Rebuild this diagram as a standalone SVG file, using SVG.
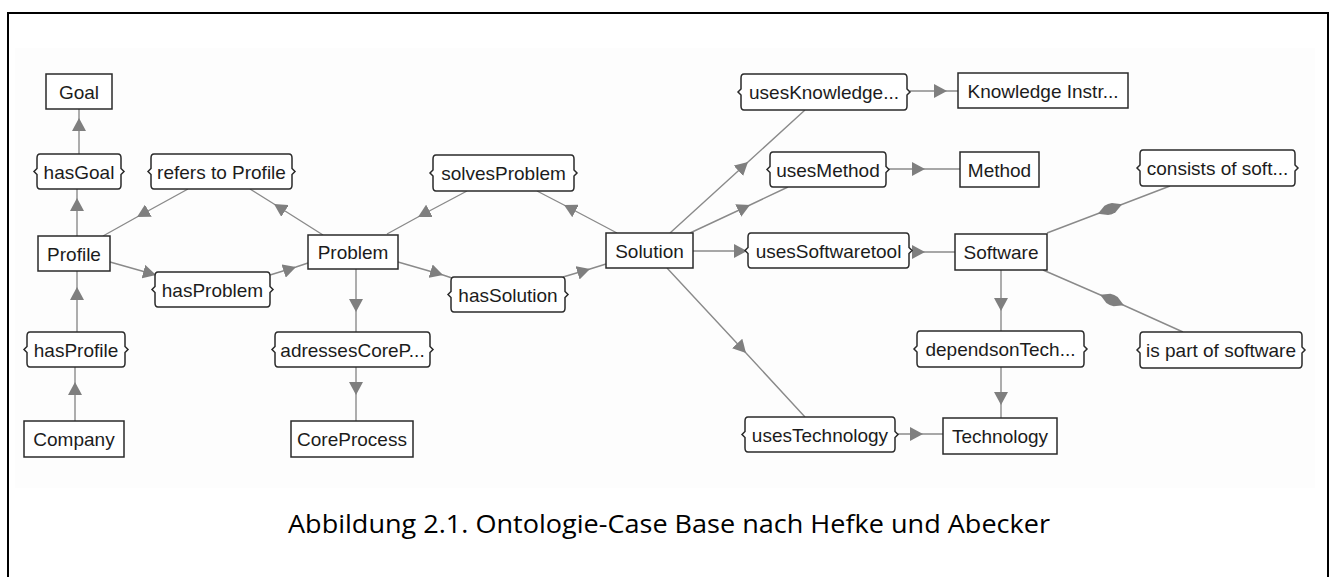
<svg xmlns="http://www.w3.org/2000/svg" width="1335" height="577" viewBox="0 0 1335 577">
<style>
.box{fill:#ffffff;stroke:#2a2a2a;stroke-width:1.5}
.lbl{fill:#ffffff;stroke:#2a2a2a;stroke-width:1.5}
.t{font-family:"Liberation Sans",Arial,sans-serif;font-size:19px;fill:#1c1c1c;text-anchor:middle}
.c{fill:none;stroke:#8a8a8a;stroke-width:1.4}
.a{marker-mid:url(#arr)}
.ae{marker-end:url(#arr)}
.d{marker-mid:url(#dia)}
.cap{font-family:"Open Sans","Liberation Sans",sans-serif;font-size:26px;fill:#000;text-anchor:middle}
</style>
<defs>
<marker id="arr" viewBox="0 0 13 14" refX="13" refY="7" markerWidth="13" markerHeight="14" markerUnits="userSpaceOnUse" orient="auto">
<path d="M0,0 L13,7 L0,14 Z" fill="#7f7f7f"/>
</marker>
<marker id="dia" viewBox="0 0 26 12" refX="13" refY="6" markerWidth="26" markerHeight="12" markerUnits="userSpaceOnUse" orient="auto">
<path d="M0,6 L9,1 Q13,0 17,1 L26,6 L17,11 Q13,12 9,11 Z" fill="#7f7f7f"/>
</marker>
</defs>
<rect x="0" y="0" width="1335" height="577" fill="#ffffff"/>
<rect x="15" y="48" width="1300" height="440" fill="#fdfdfd"/>
<path d="M8,580 V13 H1328 V580" fill="none" stroke="#000" stroke-width="2"/>

<g id="connectors">
<path class="c a" d="M79,154 L79,118 L79,109"/>
<path class="c a" d="M77,236 L77,198 L77,189"/>
<path class="c a" d="M75,421 L75,382 L75,367"/>
<path class="c a" d="M77,332 L77,287 L77,271"/>
<path class="c a" d="M188,189 L137,217 L103,236"/>
<path class="c a" d="M323,235 L274,204 L250,189"/>
<path class="c a" d="M110,262 L156,275 L160,276"/>
<path class="c a" d="M270,275 L296,267 L308,263"/>
<path class="c a" d="M398,262 L443,275 L452,278"/>
<path class="c a" d="M563,277 L590,269 L606,264"/>
<path class="c a" d="M617,233 L564,205 L537,191"/>
<path class="c a" d="M467,191 L418,217 L387,234"/>
<path class="c a" d="M356,269 L356,312 L356,332"/>
<path class="c a" d="M356,367 L356,395 L356,421"/>
<path class="c a" d="M670,233 L748,162 L805,110"/>
<path class="c a" d="M910,91 L947,91 L958,91"/>
<path class="c a" d="M690,233 L750,205 L788,187"/>
<path class="c a" d="M889,169 L925,169 L960,169"/>
<path class="c ae" d="M693,251 L747,251"/>
<path class="c a" d="M912,252 L925,252 L955,252"/>
<path class="c a" d="M667,268 L746,353 L805,417"/>
<path class="c a" d="M898,434 L923,434 L943,434"/>
<path class="c a" d="M1001,270 L1001,311 L1001,331"/>
<path class="c a" d="M1001,367 L1001,405 L1001,418"/>
<path class="c d" d="M1047,233 L1110,209 L1170,186"/>
<path class="c d" d="M1043,270 L1112,300 L1183,332"/>
</g>

<g id="goal"><rect class="box" x="46" y="74" width="66" height="35"/><text class="t" x="79" y="98.5">Goal</text></g>
<g id="profile"><rect class="box" x="38" y="236" width="72" height="35"/><text class="t" x="74" y="260.5">Profile</text></g>
<g id="company"><rect class="box" x="24" y="421" width="100" height="36"/><text class="t" x="74" y="446">Company</text></g>
<g id="problem"><rect class="box" x="308" y="235" width="90" height="34"/><text class="t" x="353" y="259">Problem</text></g>
<g id="coreprocess"><rect class="box" x="291" y="421" width="122" height="36"/><text class="t" x="352" y="446">CoreProcess</text></g>
<g id="solution"><rect class="box" x="606" y="233" width="87" height="35"/><text class="t" x="649.5" y="257.5">Solution</text></g>
<g id="knowledge"><rect class="box" x="958" y="73" width="170" height="35"/><text class="t" x="1043" y="97.5">Knowledge Instr...</text></g>
<g id="method"><rect class="box" x="960" y="152" width="79" height="35"/><text class="t" x="999.5" y="176.5">Method</text></g>
<g id="software"><rect class="box" x="955" y="234" width="92" height="36"/><text class="t" x="1001" y="259">Software</text></g>
<g id="technology"><rect class="box" x="943" y="418" width="114" height="36"/><text class="t" x="1000" y="443">Technology</text></g>

<g id="hasGoal"><path class="lbl" d="M40,154 H118 Q121,154 121,158 V168.5 L124,171.5 L121,174.5 V185 Q121,189 118,189 H40 Q37,189 37,185 V174.5 L34,171.5 L37,168.5 V158 Q37,154 40,154 Z"/><text class="t" x="79" y="178.5">hasGoal</text></g>
<g id="refersToProfile"><path class="lbl" d="M154,154 H289 Q292,154 292,158 V168.5 L295,171.5 L292,174.5 V185 Q292,189 289,189 H154 Q151,189 151,185 V174.5 L148,171.5 L151,168.5 V158 Q151,154 154,154 Z"/><text class="t" x="221.5" y="178.5">refers to Profile</text></g>
<g id="hasProblem"><path class="lbl" d="M158,272 H267 Q270,272 270,276 V286.5 L273,289.5 L270,292.5 V303 Q270,307 267,307 H158 Q155,307 155,303 V292.5 L152,289.5 L155,286.5 V276 Q155,272 158,272 Z"/><text class="t" x="212.5" y="296.5">hasProblem</text></g>
<g id="hasProfile"><path class="lbl" d="M30,332 H122 Q125,332 125,336 V346.5 L128,349.5 L125,352.5 V363 Q125,367 122,367 H30 Q27,367 27,363 V352.5 L24,349.5 L27,346.5 V336 Q27,332 30,332 Z"/><text class="t" x="76" y="356.5">hasProfile</text></g>
<g id="adressesCoreP"><path class="lbl" d="M278,332 H427 Q430,332 430,336 V346.5 L433,349.5 L430,352.5 V363 Q430,367 427,367 H278 Q275,367 275,363 V352.5 L272,349.5 L275,346.5 V336 Q275,332 278,332 Z"/><text class="t" x="352.5" y="356.5">adressesCoreP...</text></g>
<g id="solvesProblem"><path class="lbl" d="M436,155 H571 Q574,155 574,159 V170 L577,173 L574,176 V187 Q574,191 571,191 H436 Q433,191 433,187 V176 L430,173 L433,170 V159 Q433,155 436,155 Z"/><text class="t" x="503.5" y="180">solvesProblem</text></g>
<g id="hasSolution"><path class="lbl" d="M454,277 H562 Q565,277 565,281 V291.5 L568,294.5 L565,297.5 V308 Q565,312 562,312 H454 Q451,312 451,308 V297.5 L448,294.5 L451,291.5 V281 Q451,277 454,277 Z"/><text class="t" x="508" y="301.5">hasSolution</text></g>
<g id="usesKnowledge"><path class="lbl" d="M744,74 H904 Q907,74 907,78 V89 L910,92 L907,95 V106 Q907,110 904,110 H744 Q741,110 741,106 V95 L738,92 L741,89 V78 Q741,74 744,74 Z"/><text class="t" x="824" y="99">usesKnowledge...</text></g>
<g id="usesMethod"><path class="lbl" d="M773,152 H883 Q886,152 886,156 V166.5 L889,169.5 L886,172.5 V183 Q886,187 883,187 H773 Q770,187 770,183 V172.5 L767,169.5 L770,166.5 V156 Q770,152 773,152 Z"/><text class="t" x="828" y="176.5">usesMethod</text></g>
<g id="usesSoftwaretool"><path class="lbl" d="M751,233 H906 Q909,233 909,237 V247.5 L912,250.5 L909,253.5 V264 Q909,268 906,268 H751 Q748,268 748,264 V253.5 L745,250.5 L748,247.5 V237 Q748,233 751,233 Z"/><text class="t" x="828.5" y="257.5">usesSoftwaretool</text></g>
<g id="usesTechnology"><path class="lbl" d="M748,417 H892 Q895,417 895,421 V431.5 L898,434.5 L895,437.5 V448 Q895,452 892,452 H748 Q745,452 745,448 V437.5 L742,434.5 L745,431.5 V421 Q745,417 748,417 Z"/><text class="t" x="820" y="441.5">usesTechnology</text></g>
<g id="dependsonTech"><path class="lbl" d="M920,331 H1081 Q1084,331 1084,335 V346 L1087,349 L1084,352 V363 Q1084,367 1081,367 H920 Q917,367 917,363 V352 L914,349 L917,346 V335 Q917,331 920,331 Z"/><text class="t" x="1000.5" y="356">dependsonTech...</text></g>
<g id="consistsOfSoft"><path class="lbl" d="M1143,150 H1292 Q1295,150 1295,154 V165 L1298,168 L1295,171 V182 Q1295,186 1292,186 H1143 Q1140,186 1140,182 V171 L1137,168 L1140,165 V154 Q1140,150 1143,150 Z"/><text class="t" x="1217.5" y="175">consists of soft...</text></g>
<g id="isPartOfSoftware"><path class="lbl" d="M1143,332 H1299 Q1302,332 1302,336 V347 L1305,350 L1302,353 V364 Q1302,368 1299,368 H1143 Q1140,368 1140,364 V353 L1137,350 L1140,347 V336 Q1140,332 1143,332 Z"/><text class="t" x="1221" y="357">is part of software</text></g>

<text class="cap" x="669" y="533" textLength="762" lengthAdjust="spacingAndGlyphs">Abbildung 2.1. Ontologie-Case Base nach Hefke und Abecker</text>
</svg>
